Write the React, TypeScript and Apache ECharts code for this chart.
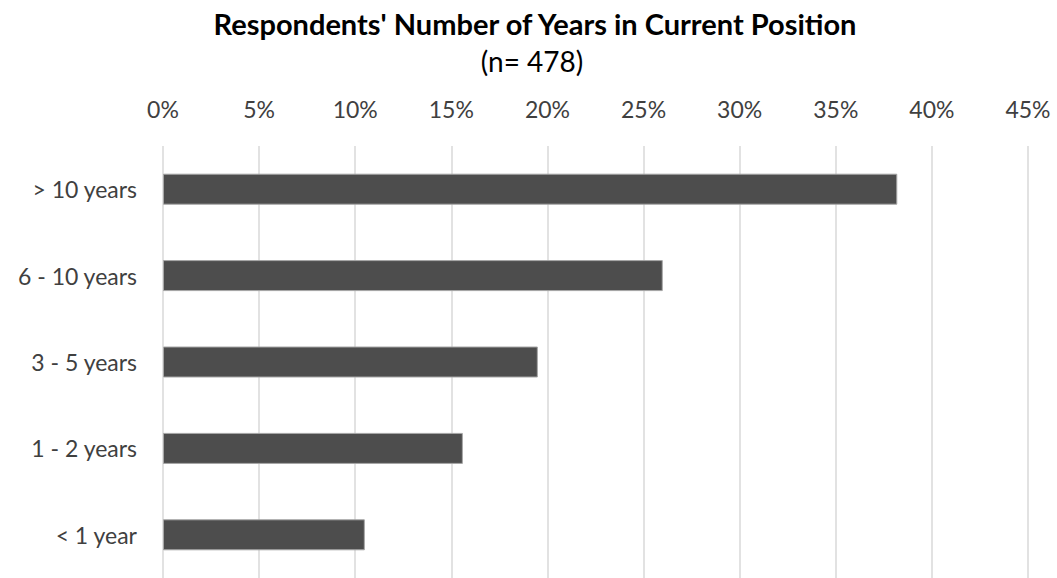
import React, { useEffect, useRef } from "react";
import * as echarts from "echarts";

const categories = ["> 10 years", "6 - 10 years", "3 - 5 years", "1 - 2 years", "< 1 year"];
const values = [38.2, 26.0, 19.5, 15.6, 10.5];
const titleText = "Respondents' Number of Years in Current Position";
const subtitleText = "(n= 478)";

export default function App() {
  const ref = useRef<HTMLDivElement>(null);
  useEffect(() => {
    if (!ref.current) return;
    const chart = echarts.init(ref.current, null, { renderer: "svg" });
    const font = "Lato, 'Noto Sans', sans-serif";
    chart.setOption({
      animation: false,
      backgroundColor: "#ffffff",
      textStyle: { fontFamily: font },
      graphic: [
        {
          type: "text",
          x: 535,
          y: 23,
          style: {
            text: titleText,
            font: `bold 29px ${font}`,
            fill: "#000000",
            align: "center",
            verticalAlign: "middle",
          },
        },
        {
          type: "text",
          x: 532,
          y: 61,
          style: {
            text: subtitleText,
            font: `28px ${font}`,
            fill: "#000000",
            align: "center",
            verticalAlign: "middle",
          },
        },
      ],
      grid: { left: 163, right: 29, top: 146, bottom: 0, containLabel: false },
      xAxis: {
        type: "value",
        position: "top",
        min: 0,
        max: 45,
        interval: 5,
        axisLine: { show: false },
        axisTick: { show: false },
        axisLabel: {
          formatter: "{value}%",
          fontSize: 23,
          color: "#404040",
          margin: 26,
          fontFamily: font,
        },
        splitLine: { show: true, lineStyle: { color: "#d9d9d9", width: 1.5 } },
      },
      yAxis: {
        type: "category",
        data: categories,
        inverse: true,
        axisLine: { show: false },
        axisTick: { show: false },
        axisLabel: { fontSize: 23, color: "#404040", margin: 26, fontFamily: font },
      },
      series: [
        {
          type: "bar",
          data: values,
          barWidth: 31,
          itemStyle: { color: "#4d4d4d", borderColor: "#a6a6a6", borderWidth: 1 },
        },
      ],
    });
    return () => chart.dispose();
  }, []);
  return (
    <div
      ref={ref}
      style={{ position: "fixed", left: 0, top: 0, width: 1057, height: 578 }}
    />
  );
}
